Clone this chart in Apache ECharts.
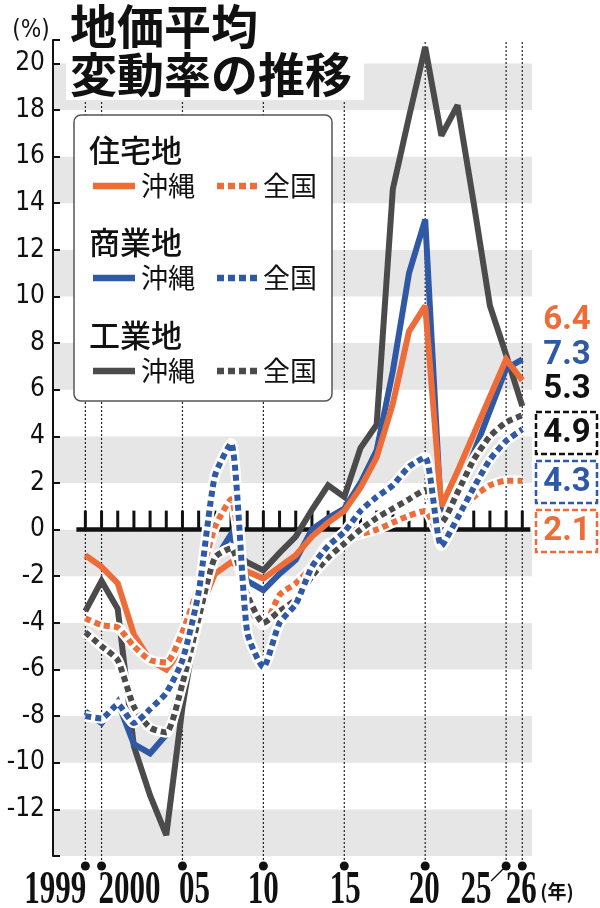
<!DOCTYPE html>
<html lang="ja">
<head>
<meta charset="utf-8">
<title>地価平均変動率の推移</title>
<script src="https://cdn.jsdelivr.net/npm/echarts@6.0.0/dist/echarts.min.js"></script>
<style>
  html, body { margin: 0; padding: 0; background: #fff; }
  #main { width: 600px; height: 908px; }
</style>
</head>
<body>
<div id="main"></div>
<script>
// 年
const years = [1999, 2000, 2001, 2002, 2003, 2004, 2005, 2006, 2007, 2008,
  2009, 2010, 2011, 2012, 2013, 2014, 2015, 2016, 2017, 2018,
  2019, 2020, 2021, 2022, 2023, 2024, 2025, 2026];

// 住宅地
const okinawaResidential = [-1.1, -1.6, -2.3, -4.5, -5.6, -6.0, -5.1, -3.6, -1.9, -1.4,
  -1.8, -2.1, -1.6, -1.1, -0.3, 0.3, 0.8, 1.8, 3.1, 5.4,
  8.5, 9.6, 1.0, 2.5, 4.1, 5.7, 7.3, 6.4];
const nationResidential = [-3.8, -4.1, -4.2, -5.0, -5.6, -5.7, -4.4, -2.4, 0.1, 1.3,
  -3.2, -4.1, -2.8, -2.3, -1.6, -0.6, -0.4, -0.2, 0.0, 0.3,
  0.6, 0.8, -0.4, 0.6, 1.4, 1.9, 2.1, 2.1];

// 商業地
const okinawaCommercial = [-7.8, -8.3, -7.4, -9.2, -9.6, -8.8, -6.4, -3.3, -1.3, -0.2,
  -2.2, -2.6, -1.9, -1.3, 0.0, 0.5, 0.9, 2.0, 3.4, 6.8,
  11.0, 13.3, 0.4, 1.5, 3.3, 5.1, 6.9, 7.3];
const nationCommercial = [-8.0, -8.1, -7.5, -8.3, -7.7, -7.0, -5.6, -2.7, 2.3, 3.7,
  -4.4, -5.9, -4.0, -3.2, -1.6, -0.7, -0.1, 0.8, 1.4, 1.9,
  2.7, 3.1, -0.7, 0.5, 1.8, 3.0, 3.8, 4.3];

// 工業地
const okinawaIndustrial = [-3.5, -2.2, -3.4, -9.3, -11.4, -13.1, -7.6, -3.5, -1.2, -0.8,
  -1.4, -1.75, -1.0, -0.3, 0.85, 1.9, 1.4, 3.5, 4.5, 14.6,
  17.7, 20.7, 16.9, 18.2, 14.0, 9.6, 7.5, 5.3];
const nationIndustrial = [-4.4, -5.0, -5.6, -7.6, -8.5, -8.7, -6.6, -3.8, -1.2, -0.8,
  -2.8, -4.0, -3.5, -3.0, -2.0, -1.2, -0.6, 0.0, 0.5, 0.9,
  1.3, 1.7, 0.3, 1.6, 3.0, 4.0, 4.6, 4.9];

// 目盛り
const markYears = [1999, 2000, 2005, 2010, 2015, 2020, 2025, 2026];
const markLabels = ['1999', '2000', '05', '10', '15', '20', '25', '26'];
const yTickLabels = [-12, -10, -8, -6, -4, -2, 0, 2, 4, 6, 8, 10, 12, 14, 16, 18, 20];

const ORANGE = '#ee6c38';
const BLUE = '#2f58a5';
const DARK = '#4b4b4b';
const JP = '"Noto Sans CJK JP", sans-serif';
const NARROW = '"Liberation Sans Narrow", "DejaVu Sans Condensed", Roboto, sans-serif';
const Y_MIN = -14, Y_MAX = 21;
// 年ラベルの横ずれ（px）
const markLabelShift = [-30, 28, 12, 0, 1, -1, -30, -1];
const LEADER_YEAR = 2025;

const chart = echarts.init(document.getElementById('main'), null, {renderer: 'canvas'});

function pairs(arr) {
  return years.map((y, i) => [y, arr[i]]);
}

function renderMarks(params, api) {
  const i = params.dataIndex;
  const year = api.value(0);
  const top = api.coord([year, Y_MAX]);
  const bottom = api.coord([year, Y_MIN]);
  const dotY = bottom[1] + 10;
  const children = [
    {type: 'line', shape: {x1: top[0], y1: top[1] + 2, x2: top[0], y2: dotY},
      style: {stroke: '#222', lineWidth: 1.2, lineDash: [2, 2]}},
    {type: 'circle', shape: {cx: top[0], cy: dotY, r: 4.5}, style: {fill: '#111'}},
    {type: 'text', x: top[0] + markLabelShift[i], y: dotY + 25, scaleX: 0.66,
      style: {text: markLabels[i], fill: '#111', font: 'bold 47px "Liberation Serif", serif',
        align: 'center', verticalAlign: 'middle'}}
  ];
  if (year === LEADER_YEAR) {
    children.push({type: 'line', shape: {x1: top[0] - 3, y1: dotY + 3, x2: top[0] - 15, y2: dotY + 15},
      style: {stroke: '#111', lineWidth: 1.3}});
  }
  return {type: 'group', children};
}

function renderComb(params, api) {
  const p = api.coord([api.value(0), 0]);
  const children = [
    {type: 'line', shape: {x1: p[0], y1: p[1], x2: p[0], y2: p[1] - 19},
      style: {stroke: '#111', lineWidth: 3}}
  ];
  if (params.dataIndex === 0) {
    const q = api.coord([years[years.length - 1], 0]);
    children.push({type: 'line', shape: {x1: p[0] - 9, y1: p[1], x2: q[0] + 8, y2: p[1]},
      style: {stroke: '#111', lineWidth: 4.5}});
  }
  return {type: 'group', children};
}

function solid(name, arr, color) {
  return {
    name, type: 'line', data: pairs(arr), symbol: 'none', z: 3, silent: true,
    lineStyle: {color, width: 6, join: 'miter', miterLimit: 3}
  };
}

function dotted(name, arr, color) {
  return [
    {name: name + '_halo', type: 'line', data: pairs(arr), symbol: 'none', z: 3, silent: true,
      smooth: 0.2, lineStyle: {color: '#fff', width: 10.5}},
    {name, type: 'line', data: pairs(arr), symbol: 'none', z: 3, silent: true, smooth: 0.2,
      lineStyle: {color, width: 6, type: [6, 4], cap: 'butt'}}
  ];
}

// 凡例
const legendRows = [
  {title: '住宅地', color: ORANGE, y: 150},
  {title: '商業地', color: BLUE, y: 242},
  {title: '工業地', color: DARK, y: 335}
];
const legendElements = [
  {type: 'rect', z: 20, shape: {x: 74, y: 115, width: 258, height: 286, r: 7},
    style: {fill: '#fff', stroke: '#555', lineWidth: 1.5}}
];
legendRows.forEach(row => {
  const ry = row.y + 36;
  legendElements.push(
    {type: 'text', z: 21, x: 89, y: row.y, style: {text: row.title, font: '500 31px ' + JP, fill: '#111',
      textVerticalAlign: 'middle', verticalAlign: 'middle'}},
    {type: 'line', z: 21, shape: {x1: 93, y1: ry, x2: 135, y2: ry}, style: {stroke: row.color, lineWidth: 6.5}},
    {type: 'text', z: 21, x: 141, y: ry, style: {text: '沖縄', font: '27px ' + JP, fill: '#111',
      textVerticalAlign: 'middle', verticalAlign: 'middle'}},
    {type: 'line', z: 21, shape: {x1: 217, y1: ry, x2: 257, y2: ry},
      style: {stroke: row.color, lineWidth: 6.5, lineDash: [7, 4]}},
    {type: 'text', z: 21, x: 263, y: ry, style: {text: '全国', font: '27px ' + JP, fill: '#111',
      textVerticalAlign: 'middle', verticalAlign: 'middle'}}
  );
});

// 右端の最新値
const last = arr => arr[arr.length - 1].toFixed(1);
const endLabels = [
  {value: last(okinawaResidential), color: ORANGE, y: 321},
  {value: last(okinawaCommercial), color: BLUE, y: 356},
  {value: last(okinawaIndustrial), color: '#111', y: 390}
];
const boxedLabels = [
  {value: last(nationIndustrial), color: '#111', y: 412},
  {value: last(nationCommercial), color: BLUE, y: 461},
  {value: last(nationResidential), color: ORANGE, y: 510}
];
const endElements = [];
endLabels.forEach(l => {
  endElements.push({type: 'text', z: 21, x: 567, y: l.y, style: {text: l.value, fill: l.color,
    font: 'bold 33px Roboto, sans-serif', textAlign: 'center', align: 'center',
    textVerticalAlign: 'middle', verticalAlign: 'middle'}});
});
boxedLabels.forEach(l => {
  endElements.push(
    {type: 'rect', z: 20, shape: {x: 536, y: l.y, width: 61, height: 42},
      style: {fill: '#fff', stroke: l.color, lineWidth: 2.5, lineDash: [6, 3]}},
    {type: 'text', z: 21, x: 567, y: l.y + 22, style: {text: l.value, fill: l.color,
      font: 'bold 33px Roboto, sans-serif', textAlign: 'center', align: 'center',
      textVerticalAlign: 'middle', verticalAlign: 'middle'}}
  );
});

const option = {
  animation: false,
  backgroundColor: '#fff',
  grid: {left: 53, right: 68, top: 40, bottom: 52, outerBoundsMode: 'none'},
  xAxis: {
    type: 'value', min: 1997, max: 2026.6,
    axisLine: {show: false}, axisTick: {show: false}, axisLabel: {show: false}, splitLine: {show: false}
  },
  yAxis: {
    type: 'value', min: Y_MIN, max: Y_MAX, interval: 2,
    axisLine: {show: true, lineStyle: {color: '#111', width: 2}},
    axisTick: {show: true, inside: true, length: 7, lineStyle: {color: '#111', width: 2}},
    axisLabel: {
      color: '#111', fontSize: 26, fontFamily: NARROW, margin: 8,
      formatter: v => (yTickLabels.indexOf(v) >= 0 ? String(v) : '')
    },
    splitLine: {show: false},
    splitArea: {show: true, areaStyle: {color: ['#e6e6e6', '#ffffff']}}
  },
  series: [
    {type: 'custom', name: 'marks', data: markYears.map(y => [y, 0]), renderItem: renderMarks,
      clip: false, z: 1, silent: true},
    {type: 'custom', name: 'zero', data: years.map(y => [y, 0]), renderItem: renderComb,
      clip: false, z: 2, silent: true},
    solid('工業地 沖縄', okinawaIndustrial, DARK),
    solid('商業地 沖縄', okinawaCommercial, BLUE),
    solid('住宅地 沖縄', okinawaResidential, ORANGE),
    ...dotted('住宅地 全国', nationResidential, ORANGE),
    ...dotted('工業地 全国', nationIndustrial, DARK),
    ...dotted('商業地 全国', nationCommercial, BLUE)
  ],
  graphic: {
    elements: [
      {type: 'rect', shape: {x: 66, y: 0, width: 298, height: 100}, style: {fill: '#fff'}, z: 20},
      {type: 'text', x: 70, y: 26, z: 21, style: {text: '地価平均', font: 'bold 47px ' + JP, fill: '#111',
        textVerticalAlign: 'middle', verticalAlign: 'middle'}},
      {type: 'text', x: 70, y: 74, z: 21, style: {text: '変動率の推移', font: 'bold 47px ' + JP, fill: '#111',
        textVerticalAlign: 'middle', verticalAlign: 'middle'}},
      {type: 'text', x: 31, y: 31, z: 21, style: {text: '(%)', font: '24px ' + NARROW, fill: '#111',
        textAlign: 'center', align: 'center', textVerticalAlign: 'middle', verticalAlign: 'middle'}},
      {type: 'text', x: 557, y: 892, z: 21, style: {text: '(年)', font: 'bold 19px ' + JP, fill: '#111',
        textAlign: 'center', align: 'center', textVerticalAlign: 'middle', verticalAlign: 'middle'}},
      {type: 'group', z: 20, children: legendElements},
      {type: 'group', z: 20, children: endElements}
    ]
  }
};

chart.setOption(option);
window.addEventListener('resize', () => chart.resize());
</script>
</body>
</html>
